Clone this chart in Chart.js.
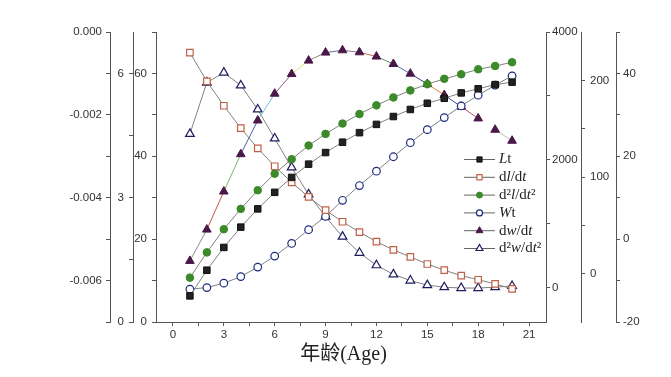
<!DOCTYPE html>
<html>
<head>
<meta charset="utf-8">
<script src="https://cdn.jsdelivr.net/npm/chart.js@4.4.1/dist/chart.umd.min.js"></script>
<style>
  html, body { margin: 0; padding: 0; background: #fff; }
</style>
</head>
<body>
<canvas id="myChart" width="671" height="377"></canvas>
<script>
// ages on the x axis
const ages = [1, 2, 3, 4, 5, 6, 7, 8, 9, 10, 11, 12, 13, 14, 15, 16, 17, 18, 19, 20]

// series values
const lt = [6.3, 12.5, 18.0, 22.9, 27.3, 31.3, 34.9, 38.1, 40.9, 43.4, 45.7, 47.7, 49.6, 51.3, 52.8, 54.0, 55.3, 56.3, 57.3, 57.9]
const dldt = [6.50, 5.81, 5.22, 4.68, 4.19, 3.76, 3.37, 3.02, 2.70, 2.42, 2.17, 1.94, 1.74, 1.57, 1.40, 1.25, 1.12, 1.02, 0.92, 0.80]
const d2ldt2 = [-0.00593, -0.00532, -0.00476, -0.00427, -0.00382, -0.00342, -0.00307, -0.00274, -0.00246, -0.00221,
  -0.00198, -0.00177, -0.00158, -0.00141, -0.00126, -0.00113, -0.00102, -0.00090, -0.00082, -0.00073]
const wt = [-20, 5, 74, 177, 325, 497, 695, 910, 1118, 1369, 1600, 1824, 2050, 2270, 2474, 2662, 2844, 3012, 3169, 3314]
const dwdt = [13.2, 45.6, 85.0, 123.6, 158.5, 186.2, 206.5, 220.4, 228.7, 231.1, 229.0, 224.6, 216.9, 206.9, 196.2, 184.8, 172.7, 160.6, 148.9, 137.5]
const d2wdt2 = [25.4, 37.8, 40.2, 37.1, 31.3, 24.3, 17.3, 10.8, 5.4, 0.6, -3.3, -6.3, -8.5, -10.0, -11.1, -11.6, -11.8, -11.8, -11.6, -11.3]

// legend text, *...* = italic
const legendLabels = ["*L*t", "d*l*/d*t*", "d²*l*/d*t*²", "*W*t", "d*w*/d*t*", "d²*w*/d*t*²"]

// tick values (major ones get a label)
const xMajor = [0, 3, 6, 9, 12, 15, 18, 21]
const xMinor = [1.5, 4.5, 7.5, 10.5, 13.5, 16.5, 19.5]
const yAMajor = [0, -0.002, -0.004, -0.006]
const yAMinor = [-0.001, -0.003, -0.005, -0.007]
const yBMajor = [0, 3, 6]
const yBMinor = [1.5, 4.5]
const yCMajor = [0, 20, 40, 60]
const yCMinor = [10, 30, 50, 70]
const yDMajor = [0, 2000, 4000]
const yDMinor = [1000, 3000]
const yEMajor = [0, 100, 200]
const yEMinor = [50, 150]
const yFMajor = [-20, 0, 20, 40]
const yFMinor = [-10, 10, 30, 50]

// the odd coloured pieces of the dw/dt line
const dwSegColors = ["#8a8a8a", "#c8553d", "#7fb36a", "#4a5aa8", "#6cc3d5", "#8e5a90", "#e2e070", "#8a8a70", "#6a6aa0",
  "#8a7890", "#b87050", "#5a9068", "#4a78a8", "#38387a", "#d8843a", "#45459a", "#b05070", "rgba(0,0,0,0)", "#bbbbbb"]

const axisColor = "#555"
const labelColor = "#333"
const lineColor = "#808080"

Chart.defaults.font.family = '"Liberation Sans", Arial, sans-serif'

const pts = arr => ages.map((a, i) => ({ x: a, y: arr[i] }))

function axis(position, weight, size, min, max, major, minor, digits, pad) {
  return {
    type: "linear",
    position: position,
    weight: weight,
    min: min,
    max: max,
    afterFit: s => {
      if (s.isHorizontal()) s.height = size
      else s.width = size
    },
    afterBuildTicks: s => {
      s.ticks = major.concat(minor).sort((a, b) => a - b).map(v => ({ value: v }))
    },
    border: { display: true, color: axisColor, width: 1 },
    grid: { drawOnChartArea: false, color: axisColor, tickLength: 4, tickWidth: 1 },
    ticks: {
      autoSkip: false,
      maxRotation: 0,
      color: labelColor,
      padding: pad,
      font: { size: 11.5 },
      callback: v => major.includes(v) ? v.toFixed(digits) : ""
    }
  }
}

const seriesKey = {
  id: "seriesKey",
  afterDatasetsDraw(chart) {
    const { ctx, chartArea } = chart
    const x0 = chartArea.left + 308
    const y0 = chartArea.top + 127.5
    ctx.save()
    chart.data.datasets.forEach((ds, i) => {
      const y = y0 + i * 17.8
      ctx.strokeStyle = "#666"
      ctx.lineWidth = 1
      ctx.beginPath()
      ctx.moveTo(x0, y)
      ctx.lineTo(x0 + 31, y)
      ctx.stroke()
      ctx.fillStyle = ds.pointBackgroundColor
      ctx.strokeStyle = ds.pointBorderColor
      ctx.lineWidth = ds.pointBorderWidth
      Chart.helpers.drawPoint(ctx, {
        pointStyle: ds.pointStyle, radius: ds.pointRadius * 0.8,
        borderWidth: ds.pointBorderWidth, rotation: 0
      }, x0 + 15.5, y)
      let tx = x0 + 35
      ctx.fillStyle = "#222"
      ctx.textBaseline = "middle"
      legendLabels[i].split("*").forEach((part, k) => {
        ctx.font = (k % 2 ? "italic " : "") + '15px "Liberation Serif", serif'
        ctx.fillText(part, tx, y)
        tx += ctx.measureText(part).width
      })
    })
    ctx.restore()
  }
}

const line = { borderColor: lineColor, borderWidth: 1, tension: 0, fill: false }

new Chart(document.getElementById("myChart").getContext("2d"), {
  type: "line",
  data: {
    datasets: [
      Object.assign({
        label: "Lt", data: pts(lt), yAxisID: "yC",
        pointStyle: "rect", pointRadius: 4.6, pointBorderWidth: 1,
        pointBackgroundColor: "#222", pointBorderColor: "#111"
      }, line),
      Object.assign({
        label: "dl/dt", data: pts(dldt), yAxisID: "yB",
        pointStyle: "rect", pointRadius: 4.6, pointBorderWidth: 1.2,
        pointBackgroundColor: "#fff", pointBorderColor: "#c0604a"
      }, line),
      Object.assign({
        label: "d2l/dt2", data: pts(d2ldt2), yAxisID: "yA",
        pointStyle: "circle", pointRadius: 3.8, pointBorderWidth: 1,
        pointBackgroundColor: "#3d8a2a", pointBorderColor: "#3d8a2a"
      }, line),
      Object.assign({
        label: "Wt", data: pts(wt), yAxisID: "yD",
        pointStyle: "circle", pointRadius: 3.8, pointBorderWidth: 1.2,
        pointBackgroundColor: "#fff", pointBorderColor: "#1c2a80"
      }, line),
      Object.assign({
        label: "dw/dt", data: pts(dwdt), yAxisID: "yE",
        pointStyle: "triangle", pointRadius: 5, pointBorderWidth: 1,
        pointBackgroundColor: "#4a1848", pointBorderColor: "#4a1848",
        segment: { borderColor: c => dwSegColors[c.p0DataIndex] }
      }, line),
      Object.assign({
        label: "d2w/dt2", data: pts(d2wdt2), yAxisID: "yF",
        pointStyle: "triangle", pointRadius: 5, pointBorderWidth: 1.2,
        pointBackgroundColor: "#fff", pointBorderColor: "#1c1c60"
      }, line)
    ]
  },
  options: {
    responsive: false,
    animation: false,
    layout: { padding: { top: 32, left: 0, right: 0, bottom: 0 } },
    plugins: { legend: { display: false }, tooltip: { enabled: false }, colors: { enabled: false } },
    scales: {
      x: Object.assign(axis("bottom", 1, 55, -1, 22, xMajor, xMinor, 0, 2), {
        title: {
          display: true,
          text: "年龄(Age)   ",
          color: "#222",
          font: { family: '"Liberation Serif", "Noto Sans CJK SC", serif', size: 20 },
          padding: { top: 0, bottom: 10 }
        }
      }),
      yA: axis("left", 3, 110, -0.007, 0, yAMajor, yAMinor, 3, 4),
      yB: axis("left", 2, 23, 0, 7, yBMajor, yBMinor, 0, 5),
      yC: axis("left", 1, 23, 0, 70, yCMajor, yCMinor, 0, 5),
      yD: axis("right", 1, 35, -533, 4000, yDMajor, yDMinor, 0, 2),
      yE: axis("right", 2, 35, -50, 250, yEMajor, yEMinor, 0, 5),
      yF: axis("right", 3, 55, -20, 50, yFMajor, yFMinor, 0, 3)
    }
  },
  plugins: [seriesKey]
})
</script>
</body>
</html>
